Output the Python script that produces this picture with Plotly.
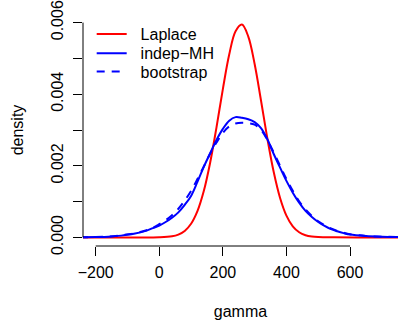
import plotly.graph_objects as go

# ---- data ----
laplace_x = [-250, -100, 0, 40, 60, 80, 100, 120, 140, 160, 180, 200, 220, 240, 260,
             280, 300, 320, 340, 360, 380, 400, 420, 440, 460, 480, 500, 550, 650, 760]
laplace_y = [0.0, 0.0, 0.000004, 0.00003, 0.000079, 0.000181, 0.000382, 0.000735, 0.001295,
             0.002087, 0.003074, 0.004144, 0.005109, 0.005761, 0.005944, 0.00561, 0.004843,
             0.003824, 0.002763, 0.001825, 0.001103, 0.00061, 0.000309, 0.000143, 0.00006,
             0.000023, 0.000008, 0.000001, 0.0, 0.0]

mh_x = [-250, -200, -160, -120, -80, -40, -20, 0, 20, 40, 60, 80, 100, 120, 140, 160, 180,
        200, 220, 240, 260, 280, 300, 320, 340, 360, 380, 400, 420, 440, 460, 480, 500,
        520, 540, 560, 580, 600, 650, 700, 760]
mh_y = [0.000003, 0.00001, 0.00002, 0.00005, 0.0001, 0.00019, 0.00026, 0.00033, 0.00043,
        0.00055, 0.0007, 0.00091, 0.00116, 0.00155, 0.00197, 0.00235, 0.00272, 0.00303,
        0.00326, 0.00336, 0.00334, 0.0033, 0.00322, 0.00305, 0.00274, 0.00233, 0.00195,
        0.00158, 0.00125, 0.00097, 0.00074, 0.00057, 0.00043, 0.00032, 0.00023, 0.00017,
        0.00012, 0.00008, 0.00004, 0.00002, 0.00001]

boot_x = [-250, -200, -160, -120, -80, -60, -40, -20, 0, 20, 40, 60, 80, 100, 120, 140, 160,
          180, 200, 220, 240, 260, 280, 300, 320, 340, 360, 380, 400, 420, 440, 460, 480,
          500, 520, 540, 560, 580, 600, 650, 700, 760]
boot_y = [0.000004, 0.000012, 0.000025, 0.00006, 0.00011, 0.00015, 0.0002, 0.00027, 0.00037,
          0.00048, 0.00062, 0.0008, 0.00103, 0.0013, 0.00163, 0.00198, 0.00234, 0.00265,
          0.00292, 0.0031, 0.00318, 0.0032, 0.00319, 0.00315, 0.003, 0.00272, 0.00237,
          0.002, 0.00163, 0.0013, 0.00101, 0.00078, 0.0006, 0.00045, 0.00034, 0.00025,
          0.00018, 0.00013, 0.00009, 0.00004, 0.00002, 0.00001]

series_names = ["Laplace", "indep\u2212MH", "bootstrap"]

x_ticks = [-200, 0, 200, 400, 600]
x_ticklabels = ["\u2212200", "0", "200", "400", "600"]
y_ticks = [0.000, 0.001, 0.002, 0.003, 0.004, 0.005, 0.006]
y_ticklabels = ["0.000", "", "0.002", "", "0.004", "", "0.006"]

FONT = "Liberation Sans, Arial, Helvetica, sans-serif"
FS = 16
PAD = "\u00a0\u00a0"

fig = go.Figure()
fig.add_trace(go.Scatter(x=laplace_x, y=laplace_y, mode="lines", name=PAD + series_names[0],
                         legend="legend",
                         line=dict(color="#FF0000", width=2, shape="spline")))
fig.add_trace(go.Scatter(x=mh_x, y=mh_y, mode="lines", name=PAD + series_names[1],
                         legend="legend2",
                         line=dict(color="#0000FF", width=2, shape="spline")))
fig.add_trace(go.Scatter(x=boot_x, y=boot_y, mode="lines", name=PAD + series_names[2],
                         legend="legend3",
                         line=dict(color="#0000FF", width=2, dash="8px,7px", shape="spline")))

# R-style axis lines spanning only the tick range
fig.add_shape(type="line", xref="x", yref="paper", x0=x_ticks[0], x1=x_ticks[-1],
              y0=0, y1=0, line=dict(color="black", width=1))
fig.add_shape(type="line", xref="paper", yref="y", x0=0, x1=0,
              y0=y_ticks[0], y1=y_ticks[-1], line=dict(color="black", width=1))

def leg(ypos):
    return dict(x=0.0276, y=ypos, xanchor="left", yanchor="middle",
                bgcolor="rgba(0,0,0,0)", borderwidth=0, itemwidth=30,
                font=dict(family=FONT, size=FS, color="black"))

fig.update_layout(
    width=398, height=330,
    margin=dict(l=83, r=0, t=14, b=84),
    paper_bgcolor="white", plot_bgcolor="white",
    font=dict(family=FONT, size=FS, color="black"),
    showlegend=True,
    legend=leg(0.9138),
    legend2=leg(0.8306),
    legend3=leg(0.7513),
    xaxis=dict(range=[-240, 751], tickvals=x_ticks, ticktext=x_ticklabels,
               ticks="outside", ticklen=9, tickwidth=1, tickcolor="black",
               ticklabelstandoff=3,
               showgrid=False, zeroline=False, showline=False,
               tickfont=dict(family=FONT, size=FS, color="black"),
               title=dict(text="gamma", font=dict(family=FONT, size=FS, color="black"),
                          standoff=25)),
    yaxis=dict(range=[-0.00024, 0.00624], tickvals=y_ticks, ticktext=y_ticklabels,
               ticks="outside", ticklen=9, tickwidth=1, tickcolor="black",
               tickangle=-90, ticklabelstandoff=4,
               showgrid=False, zeroline=False, showline=False,
               tickfont=dict(family=FONT, size=FS, color="black"),
               title=dict(text="density", font=dict(family=FONT, size=FS, color="black"),
                          standoff=20)),
)

fig.write_html("out.html")
